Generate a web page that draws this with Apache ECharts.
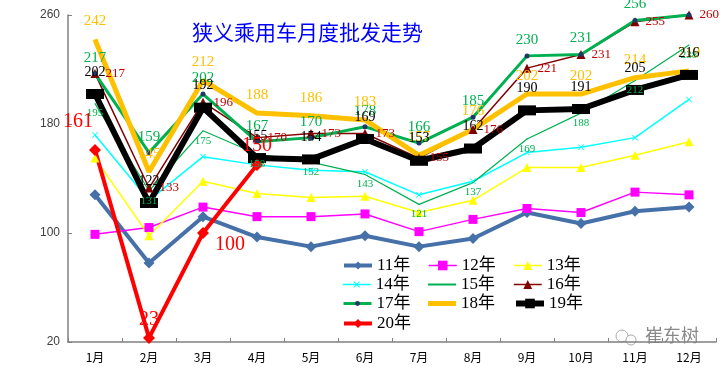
<!DOCTYPE html>
<html><head><meta charset="utf-8">
<script src="https://cdn.jsdelivr.net/npm/echarts@6/dist/echarts.min.js"></script>
<style>html,body{margin:0;padding:0;background:#fff}#c{width:720px;height:369px}</style>
</head><body><div id="c"></div>
<script>
const months = ['1月','2月','3月','4月','5月','6月','7月','8月','9月','10月','11月','12月'];
const yTicks = [20, 100, 180, 260];
const y11 = [128, 78, 112, 97, 90, 98, 90, 96, 115, 107, 116, 119];
const y12 = [99, 104, 119, 112, 112, 114, 101, 110, 118, 115, 130, 128];
const y13 = [155, 98, 138, 129, 126, 127, 115, 124, 148, 148, 157, 167];
const y14 = [172, 124, 156, 150, 146, 145, 128, 138, 159, 163, 170, 198];
const y15 = [195, 131, 175, 158, 152, 143, 121, 137, 169, 188, 212, 238];
const y16 = [217, 133, 196, 170, 173, 173, 155, 176, 221, 231, 255, 260];
const y17 = [217, 159, 202, 167, 170, 178, 166, 185, 230, 231, 256, 260];
const y18 = [242, 145, 212, 188, 186, 183, 157, 176, 202, 202, 214, 219];
const y19 = [202, 122, 192, 155, 154, 169, 153, 162, 190, 191, 205, 216];
const y20 = [161, 23, 100, 150];

const serif = 'Liberation Serif, DejaVu Serif, serif';
const legendFont = 'Liberation Serif, Noto Sans CJK SC, serif';
const xMark = 'path://M0,1L1,0L5,4L9,0L10,1L6,5L10,9L9,10L5,6L1,10L0,9L4,5Z';

function lbl(color, size, position, distance) {
  return {show: true, color: color, fontSize: size, fontFamily: serif, position: position, distance: distance};
}

const chart = echarts.init(document.getElementById('c'), null, {renderer: 'canvas'});

const series = [
  {name:'11年', type:'line', data:y11, symbol:'diamond', symbolSize:11,
   lineStyle:{color:'#4670A8', width:4}, itemStyle:{color:'#4670A8'}},
  {name:'12年', type:'line', data:y12, symbol:'rect', symbolSize:9,
   lineStyle:{color:'#FF00FF', width:1.5}, itemStyle:{color:'#FF00FF'}},
  {name:'13年', type:'line', data:y13, symbol:'triangle', symbolSize:9,
   lineStyle:{color:'#FFFF00', width:1.5}, itemStyle:{color:'#FFFF00'}},
  {name:'14年', type:'line', data:y14, symbol:xMark, symbolSize:6,
   lineStyle:{color:'#00FFFF', width:1.5}, itemStyle:{color:'#00FFFF'}},
  {name:'15年', type:'line', data:y15, symbol:'circle', symbolSize:1,
   lineStyle:{color:'#00B050', width:1.2}, itemStyle:{color:'#00B050'},
   label: lbl('#00B050', 11, 'bottom', 4)},
  {name:'16年', type:'line', data:y16, symbol:'triangle', symbolSize:9,
   lineStyle:{color:'#800000', width:1.5}, itemStyle:{color:'#800000'},
   label: lbl('#C00000', 13, 'right', 6)},
  {name:'17年', type:'line', data:y17.map((v,i)=> i===11 ? {value:v, label:{show:false}} : v),
   symbol:'circle', symbolSize:5,
   lineStyle:{color:'#00B050', width:3}, itemStyle:{color:'#1F3864'},
   label: lbl('#00B050', 15, 'top', 6)},
  {name:'18年', type:'line', data:y18, symbol:'circle', symbolSize:1,
   lineStyle:{color:'#FFC000', width:5}, itemStyle:{color:'#FFC000'},
   label: lbl('#FFC000', 15, 'top', 10)},
  {name:'19年', type:'line', data:y19, symbol:'rect', symbolSize:[18,10],
   lineStyle:{color:'#000000', width:6}, itemStyle:{color:'#000000'},
   label: lbl('#000000', 14, 'top', 10)},
  {name:'20年', type:'line',
   data:[
     {value:y20[0], label:{position:'left', distance:0, offset:[4,-28]}},
     {value:y20[1], label:{position:'top', distance:2}},
     {value:y20[2], label:{position:'right', distance:6, offset:[0,12]}},
     {value:y20[3], label:{position:'top', distance:3}}
   ],
   symbol:'diamond', symbolSize:12,
   lineStyle:{color:'#FF0000', width:4}, itemStyle:{color:'#FF0000'},
   label: lbl('#FF0000', 20, 'top', 8)}
];

const legendPos = [
  ['11年', 342, 257, 4, 10], ['12年', 428, 257, 1.5, 12], ['13年', 513, 257, 1.5, 11],
  ['14年', 342, 276, 1.5, 8], ['15年', 428, 276, 1.5, 2], ['16年', 513, 276, 1.5, 11],
  ['17年', 342, 295, 3, 6], ['18年', 428, 295, 5, 5], ['19年', 513, 295, 6, 12],
  ['20年', 342, 315, 4, 11]
];
const legends = legendPos.map(([n, l, t, w, h]) => {
  const lg = {data:[n], left:l, top:t, padding:0, itemWidth:28, itemHeight:h, itemGap:4,
    selectedMode:false, lineStyle:{width:w},
    textStyle:{fontSize:17, color:'#000', fontFamily:legendFont}};
  if (n === '15年' || n === '18年') { lg.data = [{name:n, icon:'rect'}]; }
  return lg;
});

chart.setOption({
  animation: false,
  backgroundColor: '#fff',
  title: {text:'狭义乘用车月度批发走势', left:187, top:17,
    textStyle:{color:'#0000FF', fontSize:21, fontWeight:'normal', fontFamily:'Noto Sans CJK SC'}},
  legend: legends,
  grid: {left:68, right:4, top:15, bottom:27},
  xAxis: {type:'category', data:months, boundaryGap:true,
    axisLine:{lineStyle:{color:'#808080', width:1.5}},
    axisTick:{show:true, inside:true, length:4, lineStyle:{color:'#808080'}},
    axisLabel:{color:'#000', fontSize:12, margin:9, fontFamily:'Noto Sans CJK SC'}},
  yAxis: {type:'value', min:yTicks[0], max:yTicks[yTicks.length-1], interval:80,
    splitLine:{show:false},
    axisLine:{show:true, lineStyle:{color:'#808080', width:1.5}},
    axisTick:{show:true, inside:true, length:4, lineStyle:{color:'#808080'}},
    axisLabel:{color:'#404040', fontSize:12, margin:8, fontFamily:'Liberation Sans'}},
  graphic: [
    {type:'circle', shape:{cx:622, cy:336, r:6}, style:{fill:'none', stroke:'#aaa', lineWidth:1}},
    {type:'circle', shape:{cx:631, cy:340, r:5}, style:{fill:'#fff', stroke:'#aaa', lineWidth:1}},
    {type:'text', left:645, top:326, style:{text:'崔东树', fill:'#888', fontSize:18, fontFamily:'Noto Sans CJK SC'}}
  ],
  series: series
});
</script></body></html>
